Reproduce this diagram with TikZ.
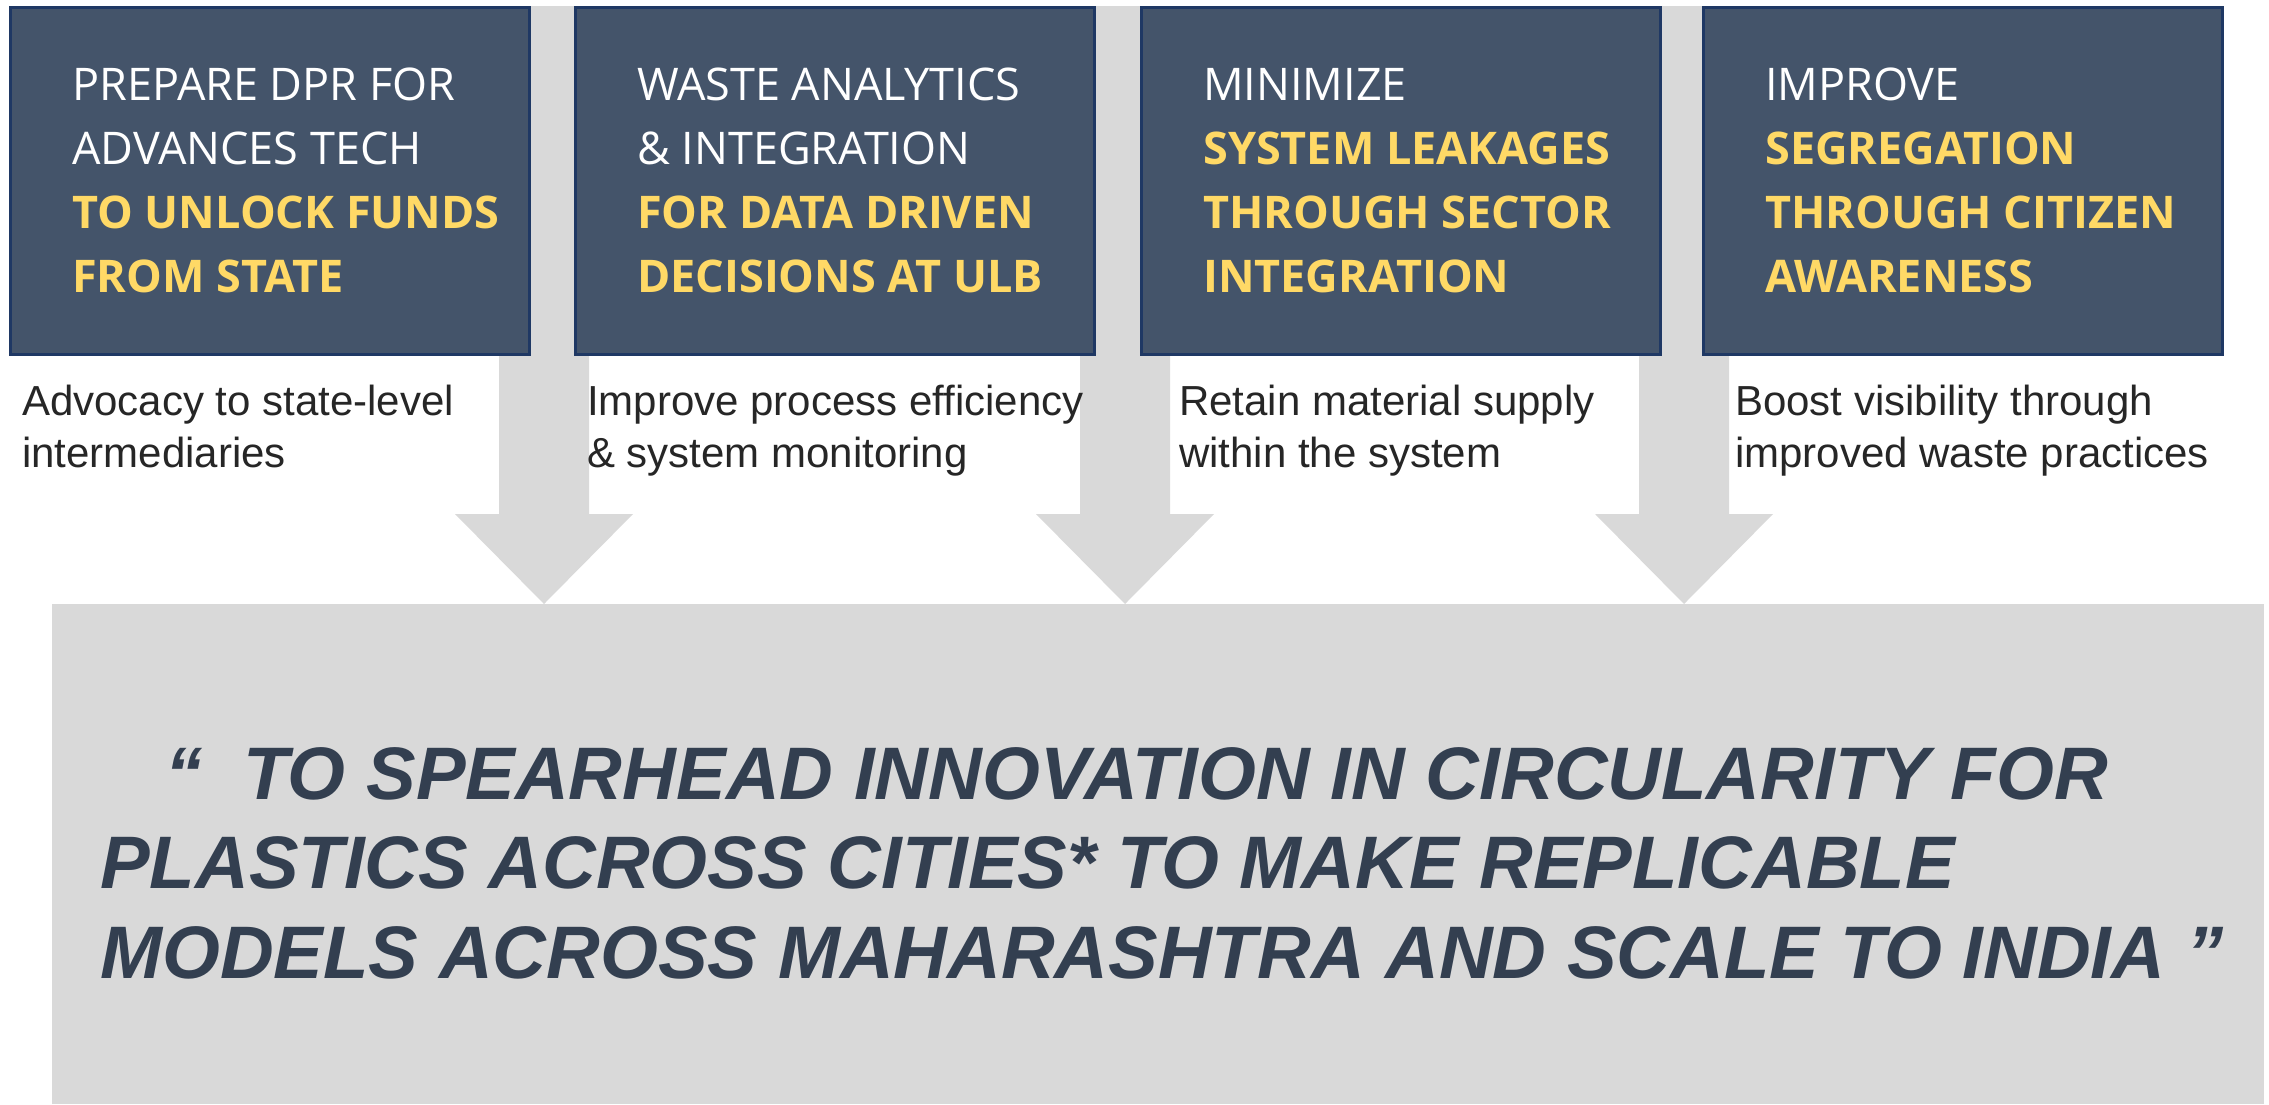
\documentclass[tikz,border=0pt]{standalone}
\usepackage{fontspec}
\setmainfont{Open Sans}
\newfontfamily\capfont{Liberation Sans}
\definecolor{slate}{HTML}{44546A}
\definecolor{navyline}{HTML}{1F3864}
\definecolor{gold}{HTML}{FFD966}
\definecolor{pale}{HTML}{D9D9D9}
\definecolor{ink}{HTML}{333F50}
\definecolor{captxt}{HTML}{262626}
\newcommand{\goldtxt}[1]{{\bfseries\color{gold}#1}}
\def\blockarrow(#1){\fill[pale] (#1-45,6) -- (#1+45,6) -- (#1+45,514) -- (#1+89,514) -- (#1,604) -- (#1-89,514) -- (#1-45,514) -- cycle;}

\begin{document}
\begin{tikzpicture}[x=1pt, y=-1pt,
		taskbox/.style={draw=navyline, line width=2.5pt, fill=slate, minimum width=519pt, minimum height=347pt, anchor=north west, inner sep=0pt},
		tasktext/.style={anchor=west, xshift=63pt, align=left, inner sep=0pt, text=white, font=\fontsize{45}{64}\selectfont},
		captext/.style={anchor=base west, align=left, inner sep=0pt, text=captxt, font=\capfont\fontsize{42}{52}\selectfont},
		visiontext/.style={anchor=base west, align=left, inner sep=0pt, text=ink, font=\capfont\bfseries\itshape\fontsize{74.4}{89.5}\selectfont}]
			%%%%% START %%%%%
			
			\useasboundingbox[fill=white] (0,0) rectangle (2269,1104);
			
			% arrows behind the boxes
			\blockarrow(544)
			\blockarrow(1125)
			\blockarrow(1684)
			
			\node[taskbox] (prep) at (9,6) {};
			\node[taskbox] (analytics) at (574,6) {};
			\node[taskbox] (leak) at (1140,6) {};
			\node[taskbox] (segr) at (1702,6) {};
			
			\node[tasktext] (preptxt) at (prep.west) {PREPARE DPR FOR\\ADVANCES TECH\\\goldtxt{TO UNLOCK FUNDS}\\\goldtxt{FROM STATE}};
			\node[tasktext] (analyticstxt) at (analytics.west) {WASTE ANALYTICS\\\& INTEGRATION\\\goldtxt{FOR DATA DRIVEN}\\\goldtxt{DECISIONS AT ULB}};
			\node[tasktext] (leaktxt) at (leak.west) {MINIMIZE\\\goldtxt{SYSTEM LEAKAGES}\\\goldtxt{THROUGH SECTOR}\\\goldtxt{INTEGRATION}};
			\node[tasktext] (segrtxt) at (segr.west) {IMPROVE\\\goldtxt{SEGREGATION}\\\goldtxt{THROUGH CITIZEN}\\\goldtxt{AWARENESS}};
			
			% captions (base = last line)
			\node[captext] (prepcap) at (22,467) {Advocacy to state-level\\intermediaries};
			\node[captext] (analyticscap) at (587,467) {Improve process efficiency\\\& system monitoring};
			\node[captext] (leakcap) at (1179,467) {Retain material supply\\within the system};
			\node[captext] (segrcap) at (1735,467) {Boost visibility through\\improved waste practices};
			
			% vision statement
			\fill[pale] (52,604) rectangle (2264,1104);
			\node[visiontext] (vision) at (100,978) {\hspace*{65pt}“\ \ TO SPEARHEAD INNOVATION IN CIRCULARITY FOR\\PLASTICS ACROSS CITIES* TO MAKE REPLICABLE\\MODELS ACROSS MAHARASHTRA AND SCALE TO INDIA ”};
			
			%%%%% END %%%%%
\end{tikzpicture}
\end{document}
